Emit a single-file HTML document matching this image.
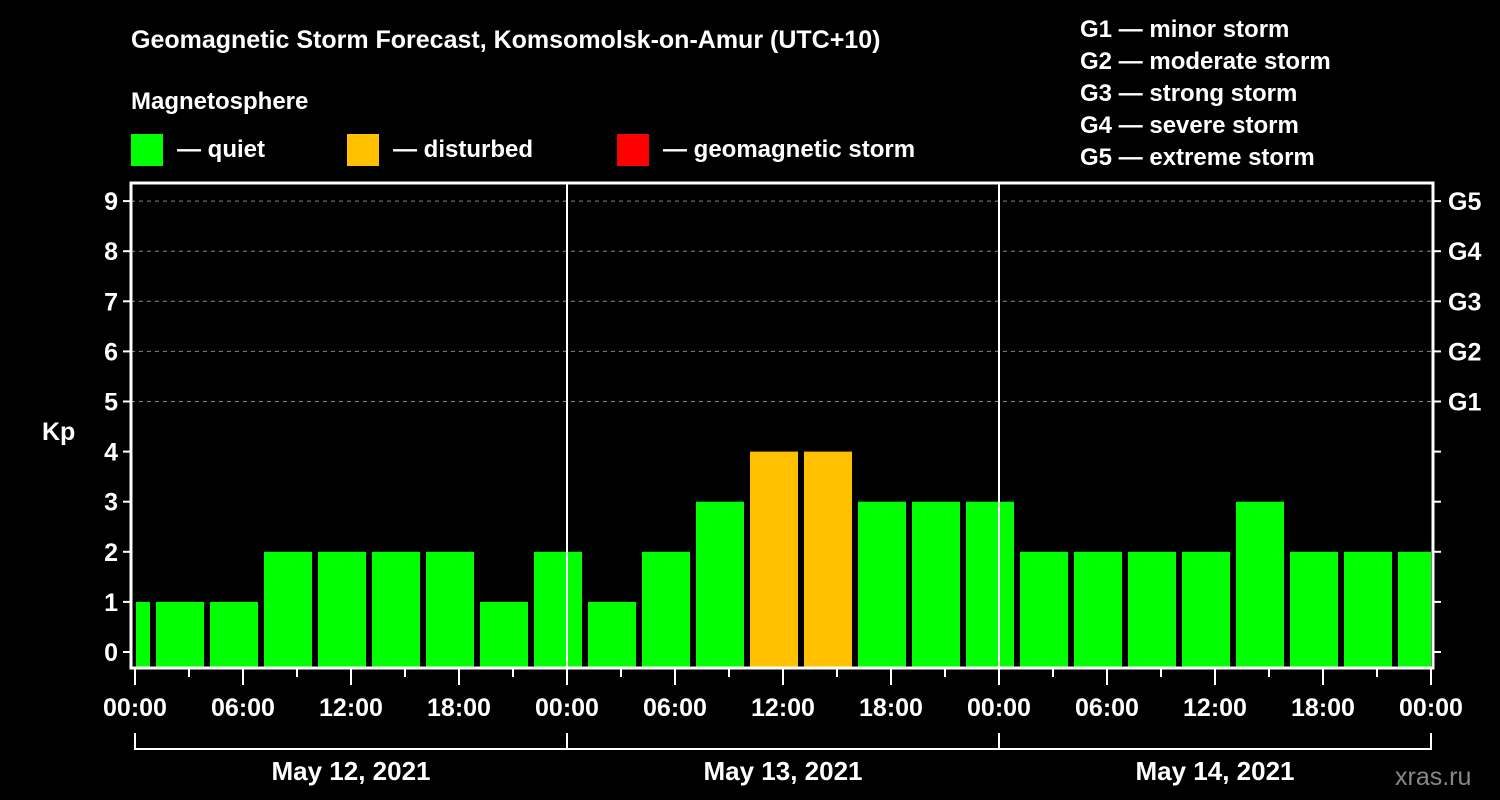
<!DOCTYPE html>
<html><head><meta charset="utf-8"><style>
body{margin:0;background:#000;width:1500px;height:800px;overflow:hidden}
svg{display:block;font-family:"Liberation Sans",Arial,sans-serif;font-weight:bold}
</style></head><body>
<svg id="chart" width="1500" height="800">
<text x="131" y="48" fill="#fff" font-size="25">Geomagnetic Storm Forecast, Komsomolsk-on-Amur (UTC+10)</text>
<text x="131" y="109" fill="#fff" font-size="24">Magnetosphere</text>
<g><rect x="131" y="134" width="32" height="32" fill="#00ff00"/><text x="177" y="157" fill="#fff" font-size="24">— quiet</text></g>
<g><rect x="347" y="134" width="32" height="32" fill="#ffc000"/><text x="393" y="157" fill="#fff" font-size="24">— disturbed</text></g>
<g><rect x="617" y="134" width="32" height="32" fill="#ff0000"/><text x="663" y="157" fill="#fff" font-size="24">— geomagnetic storm</text></g>
<g fill="#fff" font-size="24">
<text x="1080" y="37">G1 — minor storm</text>
<text x="1080" y="69">G2 — moderate storm</text>
<text x="1080" y="101">G3 — strong storm</text>
<text x="1080" y="133">G4 — severe storm</text>
<text x="1080" y="165">G5 — extreme storm</text>
</g>
<text x="42" y="440" fill="#fff" font-size="25">Kp</text>
<text x="1395" y="785" fill="#888" font-size="25" font-weight="normal">xras.ru</text>
<g id="plot"></g>
</svg>
<script>
const kpValues=[1,1,1,2,2,2,2,1,2,1,2,3,4,4,3,3,3,2,2,2,2,3,2,2,2];
const dayLabels=["May 12, 2021","May 13, 2021","May 14, 2021"];
const hourLabels=["00:00","06:00","12:00","18:00"];
const gLabels=["G1","G2","G3","G4","G5"];
const NS="http://www.w3.org/2000/svg";
const g=document.getElementById('plot');
const X0=135,PXH=18,PL=131,PR=1433,PT=183,PB=668;
const xs=h=>X0+h*PXH;
const ys=v=>652-v*50.1;
function mk(t,a){const e=document.createElementNS(NS,t);for(const k in a)e.setAttribute(k,a[k]);g.appendChild(e);return e;}
// grid
for(let v=5;v<=9;v++){const l=mk('line',{x1:PL,x2:PR,y1:ys(v),y2:ys(v),stroke:'#888','stroke-dasharray':'4,4'});

}
// bars
const defs=mk('clipPath',{id:'clip'});const cr=document.createElementNS(NS,'rect');
cr.setAttribute('x',136);cr.setAttribute('y',0);cr.setAttribute('width',1431-136);cr.setAttribute('height',PB);defs.appendChild(cr);
kpValues.forEach((v,i)=>{const c=xs(-0.5+3*i);const col=v>=5?'#ff0000':v>=4?'#ffc000':'#00ff00';
const r=mk('rect',{x:c-24,y:ys(v),width:48,height:PB-ys(v),fill:col,'clip-path':'url(#clip)'});

});
// day separators
for(let d=1;d<3;d++){const l=mk('line',{x1:xs(24*d),x2:xs(24*d),y1:PT,y2:PB,stroke:'#fff','stroke-width':2});

}
// frame
const fr=mk('rect',{x:PL,y:PT,width:PR-PL,height:PB-PT,fill:'none',stroke:'#fff','stroke-width':3});


// y ticks
for(let v=0;v<=9;v++){mk('line',{x1:PL-8,x2:PL,y1:ys(v),y2:ys(v),stroke:'#fff','stroke-width':2});
mk('line',{x1:PR,x2:PR+8,y1:ys(v),y2:ys(v),stroke:'#fff','stroke-width':2});
const t=mk('text',{x:PL-13,y:ys(v)+9,fill:'#fff','font-size':25,'text-anchor':'end'});t.textContent=v;

}
gLabels.forEach((s,i)=>{const t=mk('text',{x:1448,y:ys(5+i)+9,fill:'#fff','font-size':25});t.textContent=s;

});
// x ticks
for(let h=0;h<=72;h+=3){const major=h%6===0;mk('line',{x1:xs(h),x2:xs(h),y1:PB+1,y2:PB+(major?17:9),stroke:'#fff','stroke-width':2});
if(major){const t=mk('text',{x:xs(h),y:716,fill:'#fff','font-size':25,'text-anchor':'middle'});t.textContent=hourLabels[(h/6)%4];

}}
// day brackets
mk('path',{d:`M${xs(0)},733V749H${xs(72)}V733`,stroke:'#fff','stroke-width':2,fill:'none'});
for(let d=1;d<3;d++)mk('line',{x1:xs(24*d),x2:xs(24*d),y1:733,y2:749,stroke:'#fff','stroke-width':2});
dayLabels.forEach((s,i)=>{const t=mk('text',{x:xs(24*i+12),y:780,fill:'#fff','font-size':26,'text-anchor':'middle'});t.textContent=s;

});
</script>
</body></html>
